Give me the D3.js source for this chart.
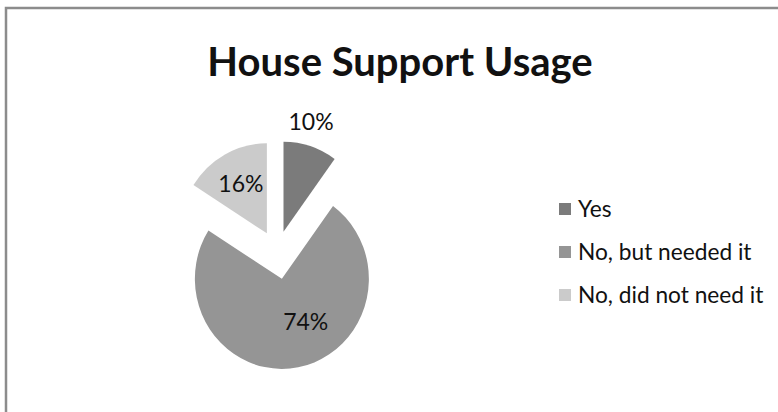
<!DOCTYPE html>
<html>
<head>
<meta charset="utf-8">
<script src="https://cdn.jsdelivr.net/npm/d3@7/dist/d3.min.js"></script>
<style>
  html, body { margin: 0; padding: 0; background: #ffffff; }
  svg { display: block; }
  text { font-family: Lato, "Open Sans", "Liberation Sans", sans-serif; fill: #111111; }
</style>
</head>
<body>
<svg id="chart" width="778" height="412"></svg>
<script>
// Survey answers and their shares (percent)
const categories = ["Yes", "No, but needed it", "No, did not need it"];
const values = [10, 74, 16];
const valueLabels = ["10%", "74%", "16%"];
const sliceColors = ["#7b7b7b", "#959595", "#cbcbcb"];
const chartTitle = "House Support Usage";

const svg = d3.select("#chart");
const W = 778, H = 412;

// chart frame (runs past the right and bottom edges of the page)
svg.append("rect")
  .attr("x", 6).attr("y", 8)
  .attr("width", W + 20).attr("height", H + 20)
  .attr("fill", "#ffffff")
  .attr("stroke", "#8c8c8c")
  .attr("stroke-width", 2.5);

// title
svg.append("text")
  .attr("x", 400).attr("y", 76)
  .attr("text-anchor", "middle")
  .attr("font-size", 40)
  .attr("font-weight", "bold")
  .text(chartTitle);

// exploded pie
const cx = 277, cy = 252.4, radius = 87, yStretch = 1.035;
const explode = [21, 26, 21];

const pie = d3.pie().sort(null).value(d => d);
const arcs = pie(values);
const arc = d3.arc().innerRadius(0).outerRadius(radius);

const g = svg.append("g")
  .attr("transform", `translate(${cx},${cy}) scale(1,${yStretch})`);

function offset(a, dist) {
  const mid = (a.startAngle + a.endAngle) / 2;
  return [Math.sin(mid) * dist, -Math.cos(mid) * dist];
}

g.selectAll("path.slice")
  .data(arcs)
  .join("path")
  .attr("class", "slice")
  .attr("d", arc)
  .attr("fill", (d, i) => sliceColors[i])
  .attr("transform", (d, i) => {
    const [dx, dy] = offset(d, explode[i]);
    return `translate(${dx},${dy})`;
  });

// data labels: distance from each slice tip and a small angular nudge
const labelDist = [110, 48, 54];
const labelTurn = [-3.5, -19, 0];

svg.selectAll("text.value")
  .data(arcs)
  .join("text")
  .attr("class", "value")
  .attr("text-anchor", "middle")
  .attr("font-size", 23)
  .attr("x", (d, i) => {
    const [dx] = offset(d, explode[i]);
    const mid = (d.startAngle + d.endAngle) / 2 + labelTurn[i] * Math.PI / 180;
    return cx + dx + Math.sin(mid) * labelDist[i];
  })
  .attr("y", (d, i) => {
    const [, dy] = offset(d, explode[i]);
    const mid = (d.startAngle + d.endAngle) / 2 + labelTurn[i] * Math.PI / 180;
    return cy + (dy - Math.cos(mid) * labelDist[i]) * yStretch + 8;
  })
  .text((d, i) => valueLabels[i]);

// legend
const legendY = d3.scalePoint().domain(categories).range([209, 295]);
const legend = svg.selectAll("g.legend")
  .data(categories)
  .join("g")
  .attr("class", "legend")
  .attr("transform", d => `translate(559,${legendY(d)})`);

legend.append("rect")
  .attr("x", 0).attr("y", -6)
  .attr("width", 12).attr("height", 12)
  .attr("fill", (d, i) => sliceColors[i]);

legend.append("text")
  .attr("x", 19).attr("y", 7.5)
  .attr("font-size", 22.7)
  .text(d => d);
</script>
</body>
</html>
